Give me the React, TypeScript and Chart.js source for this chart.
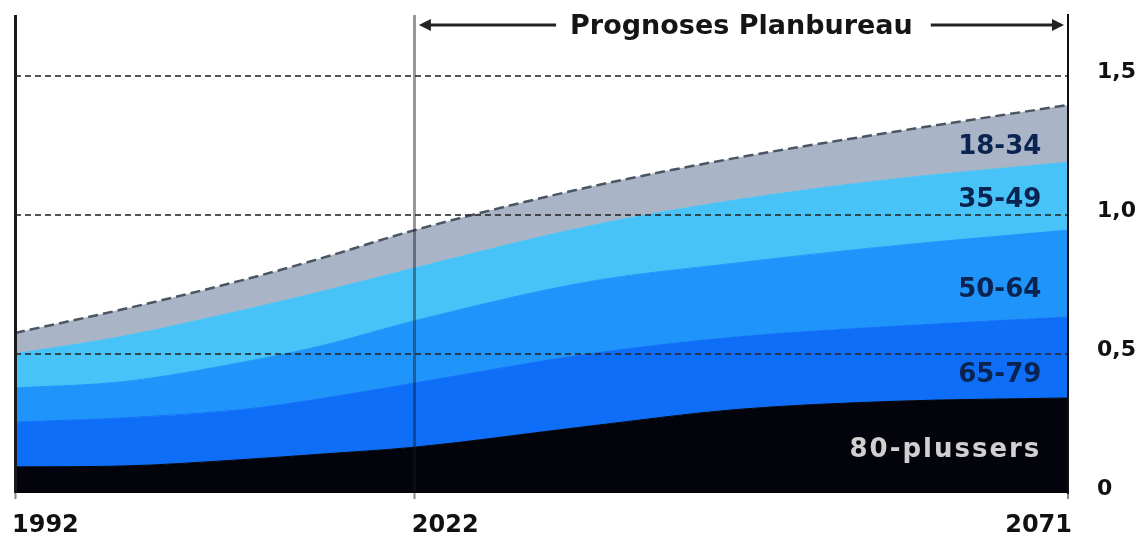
import React, { useEffect, useRef } from "react";
import { Chart, registerables } from "chart.js";

Chart.register(...registerables);

// ---- data ----
const YEARS = [1992, 2000, 2009, 2015, 2022, 2035, 2046, 2058, 2071];
const V_80_PLUS = [0.094, 0.097, 0.12, 0.14, 0.165, 0.24, 0.3, 0.33, 0.342];
const V_65_79 = [0.161, 0.173, 0.18, 0.2, 0.231, 0.26, 0.261, 0.27, 0.291];
const V_50_64 = [0.123, 0.13, 0.17, 0.19, 0.224, 0.26, 0.266, 0.29, 0.313];
const V_35_49 = [0.123, 0.163, 0.187, 0.195, 0.19, 0.2, 0.227, 0.24, 0.244];
const V_18_34 = [0.075, 0.097, 0.108, 0.12, 0.136, 0.14, 0.151, 0.17, 0.206];

const SERIES_LABELS = ["80-plussers", "65-79", "50-64", "35-49", "18-34"];
const SERIES_VALUES = [V_80_PLUS, V_65_79, V_50_64, V_35_49, V_18_34];

const X_TICKS = [1992, 2022, 2071];
const Y_TICKS = [0, 0.5, 1.0, 1.5];
const HEADER = "Prognoses Planbureau";
const FORECAST_FROM = 2022;
const LABEL_YEAR = 2069;
const LABEL_VALUES = [0.155, 0.425, 0.73, 1.055, 1.245];

const COLORS = ["#03030b", "#0f6ef7", "#1f95fb", "#47c3f8", "#a9b5c6"];
const FONT = '"DejaVu Sans", sans-serif';

const overlayPlugin = {
  id: "overlay",
  afterDraw(chart: any) {
    const { ctx, chartArea, scales } = chart;
    const xs = scales.x;
    const ys = scales.y;
    ctx.save();

    // x-axis labels
    ctx.font = `bold 24px ${FONT}`;
    ctx.fillStyle = "#111";
    ctx.textBaseline = "alphabetic";
    X_TICKS.forEach((yr, i) => {
      const px = xs.getPixelForValue(yr);
      const last = i === X_TICKS.length - 1;
      ctx.textAlign = last ? "right" : "left";
      ctx.fillText(String(yr), last ? px + 4 : px - 3, chartArea.bottom + 39);
    });

    // band labels
    SERIES_LABELS.forEach((lab, i) => {
      const px = xs.getPixelForValue(LABEL_YEAR);
      const py = ys.getPixelForValue(LABEL_VALUES[i]);
      ctx.font = `bold 26px ${FONT}`;
      ctx.textAlign = "right";
      ctx.textBaseline = "middle";
      (ctx as any).letterSpacing = i === 0 ? "2px" : "0px";
      ctx.fillStyle = i === 0 ? "#d0d0d0" : "#0a2350";
      ctx.fillText(lab, px, py);
    });
    (ctx as any).letterSpacing = "0px";

    // header with arrows
    const x0 = xs.getPixelForValue(FORECAST_FROM);
    const x1 = xs.getPixelForValue(YEARS[YEARS.length - 1]);
    const cx = (x0 + x1) / 2;
    const cy = chartArea.top + 10;
    ctx.font = `bold 27px ${FONT}`;
    ctx.textAlign = "center";
    ctx.textBaseline = "middle";
    ctx.fillStyle = "#151515";
    ctx.fillText(HEADER, cx, cy + 2);
    const w = ctx.measureText(HEADER).width;
    ctx.strokeStyle = "#222";
    ctx.fillStyle = "#222";
    ctx.lineWidth = 3;
    const lTip = x0 + 4;
    const rTip = x1 - 4;
    ctx.beginPath();
    ctx.moveTo(lTip + 8, cy);
    ctx.lineTo(cx - w / 2 - 14, cy);
    ctx.moveTo(cx + w / 2 + 18, cy);
    ctx.lineTo(rTip - 8, cy);
    ctx.stroke();
    ctx.beginPath();
    ctx.moveTo(lTip, cy);
    ctx.lineTo(lTip + 12, cy - 6);
    ctx.lineTo(lTip + 12, cy + 6);
    ctx.closePath();
    ctx.fill();
    ctx.beginPath();
    ctx.moveTo(rTip, cy);
    ctx.lineTo(rTip - 12, cy - 6);
    ctx.lineTo(rTip - 12, cy + 6);
    ctx.closePath();
    ctx.fill();

    ctx.restore();
  },
};

export default function App() {
  const ref = useRef<HTMLCanvasElement | null>(null);

  useEffect(() => {
    document.body.style.margin = "0";
    if (!ref.current) return;
    const chart = new Chart(ref.current, {
      type: "line",
      data: {
        datasets: SERIES_VALUES.map((vals, i) => ({
          label: SERIES_LABELS[i],
          data: YEARS.map((yr, j) => ({ x: yr, y: vals[j] })),
          backgroundColor: COLORS[i],
          borderColor: i === 4 ? "#4b5663" : COLORS[i],
          borderWidth: i === 4 ? 2.5 : 1,
          borderDash: i === 4 ? [10, 5] : [],
          fill: i === 0 ? "origin" : "-1",
          pointRadius: 0,
          cubicInterpolationMode: "monotone" as const,
        })),
      },
      options: {
        responsive: false,
        animation: false,
        layout: { padding: { left: 15, top: 15, right: 0, bottom: 0 } },
        plugins: { legend: { display: false }, tooltip: { enabled: false } },
        scales: {
          x: {
            type: "linear",
            min: YEARS[0],
            max: YEARS[YEARS.length - 1],
            afterBuildTicks: (s: any) => {
              s.ticks = X_TICKS.map((v) => ({ value: v }));
            },
            afterFit: (s: any) => {
              s.height = 44;
              s.paddingLeft = 0;
              s.paddingRight = 0;
            },
            ticks: { display: false },
            grid: {
              z: 1,
              color: (c: any) =>
                c.index === 1 ? "rgba(25,25,35,0.45)" : "#1a1a1a",
              lineWidth: (c: any) => (c.index === 2 ? 2 : 3),
              drawTicks: true,
              tickLength: 6,
              tickColor: "#888",
              tickWidth: 2,
            },
            border: { display: false, z: 1 },
          },
          y: {
            position: "right",
            stacked: true,
            min: 0,
            max: 1.72,
            afterBuildTicks: (s: any) => {
              s.ticks = Y_TICKS.map((v) => ({ value: v }));
            },
            afterFit: (s: any) => {
              s.width = 70;
              s.paddingTop = 0;
              s.paddingBottom = 0;
            },
            ticks: {
              padding: 29,
              labelOffset: -4,
              color: "#111",
              font: { family: FONT, size: 22, weight: "bold" },
              callback: (v: any) =>
                Number(v) === 0 ? "0" : Number(v).toFixed(1).replace(".", ","),
            },
            grid: {
              z: 1,
              color: (c: any) =>
                c.tick && c.tick.value === 0 ? "rgba(0,0,0,0)" : "rgba(40,40,40,0.8)",
              lineWidth: 2,
              drawTicks: false,
            },
            border: { display: true, color: "#111", width: 2, dash: [6, 4], z: 1 },
          },
        },
      },
      plugins: [overlayPlugin],
    });
    return () => chart.destroy();
  }, []);

  return (
    <div style={{ width: 1138, height: 537 }}>
      <canvas ref={ref} width={1138} height={537} style={{ display: "block" }} />
    </div>
  );
}
